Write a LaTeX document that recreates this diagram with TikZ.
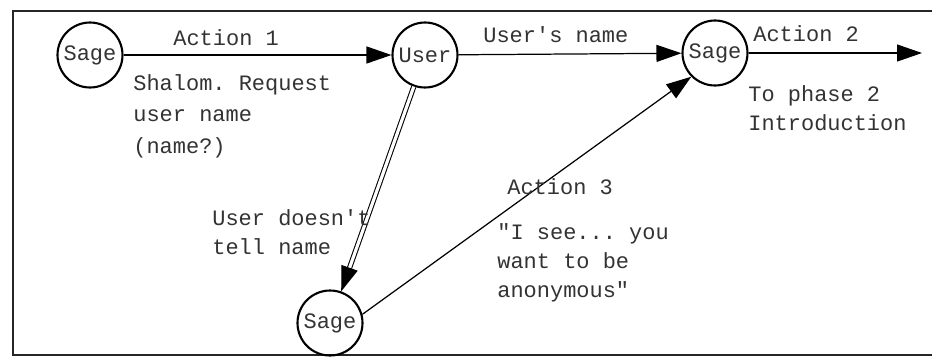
\documentclass[tikz,border=0pt]{standalone}
\usepackage{fontspec}
\setmonofont{Liberation Mono}
\usepackage{tikz}
\usetikzlibrary{arrows.meta}
\tikzset{%
  estado/.style ={circle, draw=black, line width=1.2pt, minimum size=1.3cm,
                  inner sep=0pt, text=black!80},
  flecha/.style ={-{Triangle[length=0.5cm, width=0.34cm]}, line width=0.7pt},
  doble/.style  ={-{Triangle[length=0.5cm, width=0.34cm]}, double, line width=0.6pt,
                  double distance=1.8pt},
  etiq/.style   ={anchor=north west, inner sep=0pt, align=left, text=black!80},
  marco/.style  ={line width=1.6pt, draw=black!85}
}

\begin{document}
\begin{tikzpicture}[every node/.style={font=\ttfamily\fontsize{12.5}{16.5}\selectfont}]
  \useasboundingbox (0,0) rectangle (18.64,7.26);
  \draw[marco] (19.2,7.04) -- (0.26,7.04) -- (0.26,0.16) -- (19.2,0.16);
  \node[estado] (sage1) at (1.8,6.16) {Sage};
  \node[estado] (user)  at (8.5,6.16) {User};
  \node[estado] (sage2) at (14.3,6.2) {Sage};
  \node[estado] (sage3) at (6.6,0.8) {Sage};
  \coordinate (fase2) at (18.44,6.2);
  \draw[flecha] (sage1)--(user);
  \draw[flecha] (user)--(sage2);
  \draw[flecha] (sage2)--(fase2);
  \draw[doble] (user)--(sage3);
  \draw[flecha] (sage3.15)--(sage2.south west);
  \node[etiq] (a1) at (3.46,6.68) {Action 1};
  \node[etiq] (nom) at (9.66,6.74) {User's name};
  \node[etiq] (a2) at (15.06,6.76) {Action 2};
  \node[etiq] (shalom) at (2.66,5.78) {Shalom. Request\\[1.5pt]user name\\[1.5pt](name?)};
  \node[etiq] (intro) at (14.96,5.56) {To phase 2\\Introduction};
  \node[etiq] (nodice) at (4.24,3.08) {User doesn't\\tell name};
  \node[etiq] (a3) at (10.14,3.7) {Action 3};
  \node[etiq] (anon) at (9.94,2.8) {"I see... you\\want to be\\anonymous"};
\end{tikzpicture}
\end{document}
